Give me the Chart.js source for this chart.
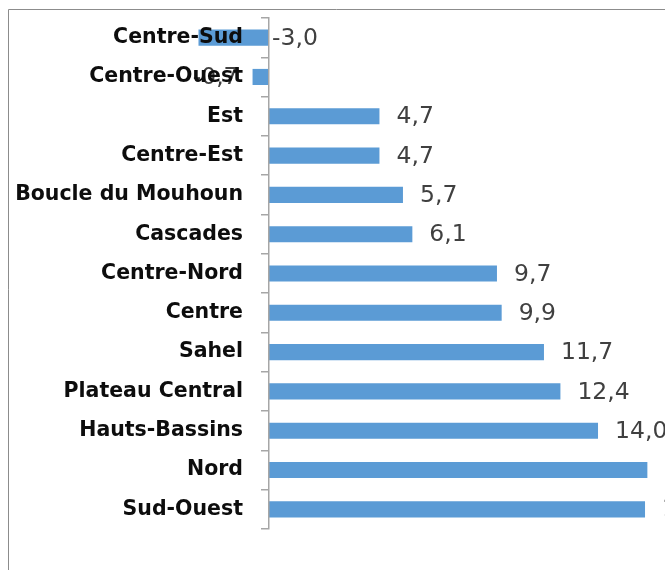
<!DOCTYPE html>
<html>
<head>
<meta charset="utf-8">
<script src="https://cdn.jsdelivr.net/npm/chart.js@4/dist/chart.umd.min.js"></script>
<style>
  html, body { margin: 0; padding: 0; background: #fff; }
  canvas { display: block; }
</style>
</head>
<body>
<canvas id="myChart" width="665" height="570"></canvas>
<script>
const regions = [
    'Centre-Sud', 'Centre-Ouest', 'Est', 'Centre-Est', 'Boucle du Mouhoun',
    'Cascades', 'Centre-Nord', 'Centre', 'Sahel', 'Plateau Central',
    'Hauts-Bassins', 'Nord', 'Sud-Ouest'
]
const values = [-3.0, -0.7, 4.7, 4.7, 5.7, 6.1, 9.7, 9.9, 11.7, 12.4, 14.0, 16.1, 16.0]

const fmt = (v) => v.toFixed(1).replace('.', ',')

// grey frame of the original picture (left and top edges only are visible)
const framePlugin = {
    id: 'frame',
    beforeDraw(chart) {
        const ctx = chart.ctx
        ctx.save()
        ctx.strokeStyle = '#8c8c8c'
        ctx.lineWidth = 1
        ctx.beginPath()
        ctx.moveTo(8.5, chart.height)
        ctx.lineTo(8.5, 9.5)
        ctx.lineTo(chart.width, 9.5)
        ctx.stroke()
        ctx.restore()
    }
}

// value labels next to each bar
const valueLabels = {
    id: 'valueLabels',
    afterDatasetsDraw(chart) {
        const ctx = chart.ctx
        const meta = chart.getDatasetMeta(0)
        ctx.save()
        ctx.font = '23.5px "DejaVu Sans"'
        ctx.fillStyle = '#404040'
        ctx.textBaseline = 'middle'
        meta.data.forEach((bar, i) => {
            const v = values[i]
            let x
            if (v >= 0) {
                ctx.textAlign = 'left'
                x = bar.x + 17
            } else if (bar.base - bar.x > 40) {
                ctx.textAlign = 'left'
                x = bar.base + 3
            } else {
                ctx.textAlign = 'right'
                x = bar.x - 14
            }
            ctx.fillText(fmt(v), x, bar.y + 1)
        })
        ctx.restore()
    }
}

const chart = new Chart(document.querySelector('#myChart'), {
    type: 'bar',
    data: {
        labels: regions,
        datasets: [{
            data: values,
            backgroundColor: '#5b9bd5',
            borderWidth: 0,
            barPercentage: 0.41,
            categoryPercentage: 1,
            clip: false
        }]
    },
    options: {
        indexAxis: 'y',
        responsive: false,
        animation: false,
        devicePixelRatio: 1,
        layout: { padding: { left: 8, top: 18, right: 0, bottom: 41 } },
        plugins: {
            legend: { display: false },
            tooltip: { enabled: false }
        },
        scales: {
            x: { display: false, min: 0, max: 16.85 },
            y: {
                afterFit: (s) => {
                    s.width = 261
                    s.paddingTop = 0
                    s.paddingBottom = 0
                },
                border: { color: '#a6a6a6', width: 1.5, z: 1 },
                grid: {
                    drawOnChartArea: false,
                    color: '#a6a6a6',
                    lineWidth: 1.5,
                    tickLength: 8,
                    offset: true
                },
                ticks: {
                    z: 1,
                    color: '#0d0d0d',
                    padding: 18,
                    autoSkip: false,
                    font: { family: 'DejaVu Sans', size: 20.5, weight: 'bold' }
                }
            }
        }
    },
    plugins: [framePlugin, valueLabels]
})
</script>
</body>
</html>
